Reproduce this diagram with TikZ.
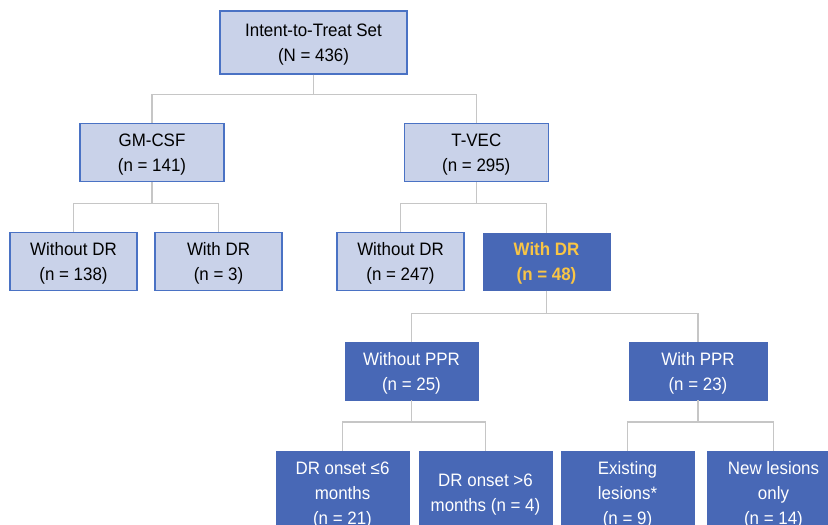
\documentclass[tikz,border=0pt]{standalone}
\usepackage{fontspec}
\setmainfont{Liberation Sans}[FakeStretch=0.94]
\definecolor{lightfill}{HTML}{C9D2E9}
\definecolor{boxborder}{HTML}{4A72C4}
\definecolor{darkfill}{HTML}{4868B6}
\definecolor{hilite}{HTML}{F9C545}
\definecolor{linegray}{HTML}{C6C6C6}
\tikzset{
  base/.style={rectangle, inner sep=0pt, align=center, font=\fontsize{18}{25}\selectfont, text depth=-9pt},
  light/.style={base, fill=lightfill, draw=boxborder, line width=1.2pt, text=black},
  dark/.style={base, fill=darkfill, draw=darkfill, line width=0.5pt, text=white},
  leaf/.style={dark, minimum width=133, minimum height=84, text depth=-2pt},
  conn/.style={draw=linegray, line width=1.1pt},
}
\begin{document}
\begin{tikzpicture}[x=1pt,y=-1pt]
\clip (0,0) rectangle (828,525);
\fill[white] (0,0) rectangle (828,525);
% nodes
\node[light, minimum width=187, minimum height=63] (itt) at (313.5,42.5) {Intent-to-Treat Set\\(N = 436)};
\node[light, minimum width=144, minimum height=58.5] (gm) at (152,152.5) {GM-CSF\\(n = 141)};
\node[light, minimum width=144, minimum height=58.5] (tvec) at (476.3,152.5) {T-VEC\\(n = 295)};
\node[light, minimum width=127, minimum height=57.5] (gmwo) at (73.5,261.5) {Without DR\\(n = 138)};
\node[light, minimum width=127, minimum height=57.5] (gmw) at (218.5,261.5) {With DR\\(n = 3)};
\node[light, minimum width=127, minimum height=57.5] (tvwo) at (400.5,261.5) {Without DR\\(n = 247)};
\node[dark, minimum width=127, minimum height=57.5, text=hilite, font=\fontsize{18}{25}\selectfont\bfseries] (tvw) at (546.5,261.5) {With DR\\(n = 48)};
\node[dark, minimum width=133, minimum height=57.5] (woppr) at (411.5,371) {Without PPR\\(n = 25)};
\node[dark, minimum width=138, minimum height=57.5] (wppr) at (698,371) {With PPR\\(n = 23)};
\node[leaf] (on6) at (342.5,493) {DR onset ≤6\\months\\(n = 21)};
\node[leaf] (ov6) at (485.5,493) {DR onset >6\\months (n = 4)};
\node[leaf] (exist) at (627.5,493) {Existing\\lesions*\\(n = 9)};
\node[leaf] (newl) at (773.5,493) {New lesions\\only\\(n = 14)};
% connectors
\draw[conn] (itt.south) -- ++(0,20) -| (gm.north);
\draw[conn] (itt.south) -- ++(0,20) -| (tvec.north);
\draw[conn] (gm.south) -- ++(0,21.5) -| (gmwo.north);
\draw[conn] (gm.south) -- ++(0,21.5) -| (gmw.north);
\draw[conn] (tvec.south) -- ++(0,21.5) -| (tvwo.north);
\draw[conn] (tvec.south) -- ++(0,21.5) -| (tvw.north);
\draw[conn] (tvw.south) -- ++(0,23) -| (woppr.north);
\draw[conn] (tvw.south) -- ++(0,23) -| (wppr.north);
\draw[conn] (woppr.south) -- ++(0,22) -| (on6.north);
\draw[conn] (woppr.south) -- ++(0,22) -| (ov6.north);
\draw[conn] (wppr.south) -- ++(0,22) -| (exist.north);
\draw[conn] (wppr.south) -- ++(0,22) -| (newl.north);
\end{tikzpicture}
\end{document}
